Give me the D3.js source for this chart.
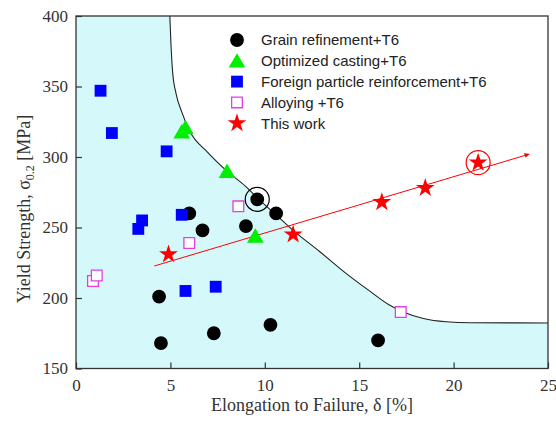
<!DOCTYPE html>
<html>
<head>
<meta charset="utf-8">
<script src="https://cdn.jsdelivr.net/npm/d3@7"></script>
<style>
  body { margin: 0; background: #fff; }
  svg { display: block; }
</style>
</head>
<body>
<div id="chart"></div>
<script>
// data: [elongation %, yield strength MPa]
const grainRefinement = [[4.5,168],[4.4,201],[7.3,175],[10.3,181],[16.0,170],[6.0,260],[6.7,248],[9.0,251],[9.6,270],[10.6,260]];
const optimizedCasting = [[5.6,318],[5.8,321],[8.0,290],[9.5,244]];
const foreignParticle = [[1.3,347],[1.9,317],[4.8,304],[3.3,249],[3.5,255],[5.6,259],[5.8,205],[7.4,208]];
const alloying = [[0.9,212],[1.1,216],[6.0,239],[8.6,265],[17.2,190]];
const thisWork = [[4.9,231],[11.5,245],[16.2,268],[18.5,278],[21.3,296]];
const highlighted = [[9.6,270,"black"],[21.3,296,"red"]];
const trendArrow = [[4.15,222.7],[24.0,302]];
const boundary = [[4.97,400],[5.03,380],[5.12,360],[5.3,345],[5.6,332],[6.0,319],[7.0,303],[8.0,290],[9.0,279],[9.6,271],[10.6,259],[11.5,248],[12.9,233],[14.3,217.5],[15.6,204.5],[16.6,195],[17.3,190.3],[18.4,185.5],[19.6,183.2],[20.9,182.5],[25,182.3]];
const xTicks = [0,5,10,15,20,25];
const yTicks = [150,200,250,300,350,400];
const legendLabels = ["Grain refinement+T6","Optimized casting+T6","Foreign particle reinforcement+T6","Alloying +T6","This work"];

const W = 556, H = 425;
const margin = {top: 16, right: 8, bottom: 56.5, left: 76},
    width = W - margin.left - margin.right,
    height = H - margin.top - margin.bottom;

const svg = d3.select("#chart").append("svg")
    .attr("width", W).attr("height", H)
    .append("g")
    .attr("transform", "translate(" + margin.left + "," + margin.top + ")");

const x = d3.scaleLinear().domain([0,25]).range([0,width]);
const y = d3.scaleLinear().domain([150,400]).range([height,0]);

// shaded region left/below the boundary
const bLine = d3.line().x(d => x(d[0])).y(d => y(d[1])).curve(d3.curveMonotoneX);
svg.append("path")
    .attr("d", bLine(boundary) + "L" + x(25) + "," + y(150) + "L" + x(0) + "," + y(150) + "L" + x(0) + "," + y(400) + "Z")
    .attr("fill", "#d5f8fa");
svg.append("path")
    .attr("d", bLine(boundary))
    .attr("fill", "none").attr("stroke", "#222").attr("stroke-width", 1.1);

// axes
svg.append("g")
    .attr("transform", "translate(0," + height + ")")
    .call(d3.axisBottom(x).tickValues(xTicks).tickSizeInner(-6).tickSizeOuter(0).tickPadding(10))
    .call(g => g.select(".domain").remove())
    .call(g => g.selectAll("text").attr("font-family", "Liberation Serif, Times New Roman, serif").attr("font-size", 17).attr("fill", "#333"))
    .call(g => g.selectAll("line").attr("stroke", "#333").attr("stroke-width", 1.2));
svg.append("g")
    .call(d3.axisLeft(y).tickValues(yTicks).tickSizeInner(-6).tickSizeOuter(0).tickPadding(8))
    .call(g => g.select(".domain").remove())
    .call(g => g.selectAll("text").attr("font-family", "Liberation Serif, Times New Roman, serif").attr("font-size", 17).attr("fill", "#333"))
    .call(g => g.selectAll("line").attr("stroke", "#333").attr("stroke-width", 1.2));

svg.append("rect")
    .attr("width", width).attr("height", height)
    .attr("fill", "none").attr("stroke", "#333").attr("stroke-width", 1.3);

// arrow for this work
svg.append("defs").append("marker")
    .attr("id", "arrowhead")
    .attr("viewBox", "0 0 10 10").attr("refX", 9).attr("refY", 5)
    .attr("markerWidth", 10).attr("markerHeight", 5).attr("markerUnits", "userSpaceOnUse")
    .attr("orient", "auto")
    .append("path").attr("d", "M0,0L10,5L0,10Z").attr("fill", "#ff0000");
svg.append("line")
    .attr("x1", x(trendArrow[0][0])).attr("y1", y(trendArrow[0][1]))
    .attr("x2", x(trendArrow[1][0])).attr("y2", y(trendArrow[1][1]))
    .attr("stroke", "#ff0000").attr("stroke-width", 1)
    .attr("marker-end", "url(#arrowhead)");

// markers
const sym = {
    circle: d3.symbol().type(d3.symbolCircle).size(150),
    tri: d3.symbol().type(d3.symbolTriangle).size(120),
    square: d3.symbol().type(d3.symbolSquare).size(140),
    openSquare: d3.symbol().type(d3.symbolSquare).size(115),
    star: d3.symbol().type(d3.symbolStar).size(110)
};
const series = [
    {data: grainRefinement, path: sym.circle, fill: "#000", stroke: "none"},
    {data: optimizedCasting, path: sym.tri, fill: "#00ee00", stroke: "none"},
    {data: foreignParticle, path: sym.square, fill: "#0000ff", stroke: "none"},
    {data: alloying, path: sym.openSquare, fill: "#fff", stroke: "#e040e0"},
    {data: thisWork, path: sym.star, fill: "#ff0000", stroke: "none"}
];
series.forEach(s => {
    svg.append("g").selectAll("path")
        .data(s.data)
        .enter().append("path")
        .attr("d", s.path)
        .attr("transform", d => "translate(" + x(d[0]) + "," + (y(d[1]) + (s.path === sym.tri ? 2 : 0)) + ")")
        .attr("fill", s.fill)
        .attr("stroke", s.stroke)
        .attr("stroke-width", 1.3);
});

svg.append("g").selectAll("circle")
    .data(highlighted)
    .enter().append("circle")
    .attr("cx", d => x(d[0])).attr("cy", d => y(d[1]))
    .attr("r", 12)
    .attr("fill", "none").attr("stroke", d => d[2]).attr("stroke-width", 1.2);

// legend
const legend = svg.append("g").attr("transform", "translate(" + (237 - margin.left) + "," + (40 - margin.top) + ")");
legendLabels.forEach((label, i) => {
    const s = series[i];
    const row = legend.append("g").attr("transform", "translate(0," + (i * 20.8) + ")");
    row.append("path")
        .attr("d", s.path)
        .attr("transform", "translate(0," + (s.path === sym.tri ? 2 : 0) + ")")
        .attr("fill", s.fill).attr("stroke", s.stroke).attr("stroke-width", 1.3);
    row.append("text")
        .attr("x", 24).attr("y", 5.4)
        .attr("font-family", "Liberation Sans, Arial, sans-serif")
        .attr("font-size", 15)
        .attr("fill", "#222")
        .text(label);
});

// axis titles
svg.append("text")
    .attr("x", width / 2).attr("y", 411 - margin.top)
    .attr("text-anchor", "middle")
    .attr("font-family", "Liberation Serif, Times New Roman, serif")
    .attr("font-size", 18).attr("fill", "#333")
    .text("Elongation to Failure, δ [%]");

const yTitle = svg.append("text")
    .attr("transform", "translate(" + (30 - margin.left) + "," + (209 - margin.top) + ")rotate(-90)")
    .attr("text-anchor", "middle")
    .attr("font-family", "Liberation Serif, Times New Roman, serif")
    .attr("font-size", 18).attr("fill", "#333");
yTitle.append("tspan").text("Yield Strength, σ");
yTitle.append("tspan").attr("font-size", 12).attr("dy", 4).text("0.2");
yTitle.append("tspan").attr("dy", -4).text(" [MPa]");
</script>
</body>
</html>
